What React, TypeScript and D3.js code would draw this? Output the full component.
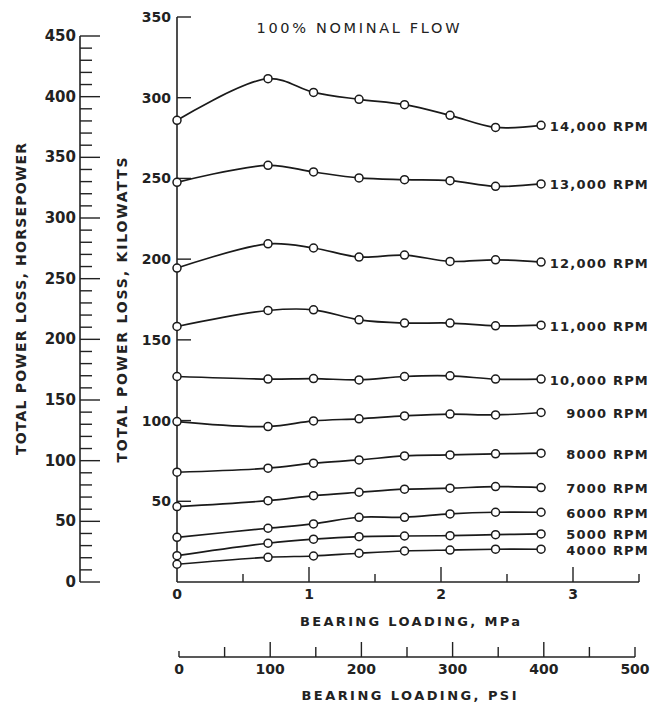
import React from "react";
import * as d3 from "d3";

// bearing load at each measured point, psi
const loadPsi = [0, 100, 150, 200, 250, 300, 350, 400];

const rpmLabels = [
  "14,000 RPM",
  "13,000 RPM",
  "12,000 RPM",
  "11,000 RPM",
  "10,000 RPM",
  "9000 RPM",
  "8000 RPM",
  "7000 RPM",
  "6000 RPM",
  "5000 RPM",
  "4000 RPM",
];

// total power loss, kW
const kw14000 = [286, 311.8, 303.3, 299, 295.7, 289.1, 281.6, 282.9];
const kw13000 = [247.6, 258.1, 254, 250.3, 249.2, 248.6, 245.1, 246.6];
const kw12000 = [194.5, 209.5, 206.9, 201.3, 202.5, 198.6, 199.6, 198.2];
const kw11000 = [158.3, 168.2, 168.6, 162.4, 160.4, 160.4, 158.7, 159.1];
const kw10000 = [127.3, 125.7, 126, 125.2, 127.3, 127.7, 125.7, 125.7];
const kw9000 = [99.4, 96.3, 99.8, 101.1, 102.9, 104, 103.5, 105];
const kw8000 = [68, 70.5, 73.6, 75.6, 78.1, 78.7, 79.4, 79.8];
const kw7000 = [46.7, 50.4, 53.5, 55.6, 57.5, 58.1, 59.1, 58.5];
const kw6000 = [27.7, 33.3, 36, 40.1, 40.1, 42.2, 43.2, 43.2];
const kw5000 = [16.3, 24, 26.5, 28.1, 28.5, 28.7, 29.3, 29.8];
const kw4000 = [11, 15.3, 16.1, 17.8, 19.2, 19.8, 20.3, 20.3];

const series = [kw14000, kw13000, kw12000, kw11000, kw10000, kw9000, kw8000, kw7000, kw6000, kw5000, kw4000];

const kwTicks = [50, 100, 150, 200, 250, 300, 350];
const hpTicks = [0, 50, 100, 150, 200, 250, 300, 350, 400, 450];
const mpaTicks = [0, 1, 2, 3];
const psiTicks = [0, 100, 200, 300, 400, 500];

const PSI_TO_MPA = 0.006895;

const font = "'DejaVu Sans', sans-serif";

export default function App() {
  const xMpa = d3.scaleLinear().domain([0, 3.5]).range([177, 639]);
  const xPsi = d3.scaleLinear().domain([0, 500]).range([179, 635]);
  const yKw = d3.scaleLinear().domain([0, 350]).range([582, 17]);
  const yHp = d3.scaleLinear().domain([0, 450]).range([582, 36]);

  const line = d3
    .line<number>()
    .x((_, i) => xMpa(loadPsi[i] * PSI_TO_MPA))
    .y((v) => yKw(v))
    .curve(d3.curveCatmullRom.alpha(0.5));

  const hpMinor = d3.range(0, 451, 10);
  const mpaMinor = d3.range(0.5, 3.51, 0.5);
  const psiMinor = d3.range(0, 501, 50);

  return (
    <svg
      width={667}
      height={707}
      style={{ position: "absolute", left: 0, top: 0, background: "#fff" }}
      fontFamily={font}
    >
      {/* horsepower axis */}
      <line x1={80} x2={80} y1={yHp(450)} y2={yHp(0)} stroke="#222" strokeWidth={1.6} />
      {hpMinor.map((v) => (
        <line
          key={"hp" + v}
          x1={80}
          x2={v % 50 === 0 ? 100 : 92}
          y1={yHp(v)}
          y2={yHp(v)}
          stroke="#222"
          strokeWidth={1.4}
        />
      ))}
      {hpTicks.map((v) => (
        <text
          key={"hpl" + v}
          x={76}
          y={yHp(v)}
          textAnchor="end"
          dominantBaseline="central"
          fontSize={15}
          fontWeight="bold"
          fill="#222"
        >
          {v}
        </text>
      ))}
      <text
        transform="translate(21,299) rotate(-90)"
        textAnchor="middle"
        dominantBaseline="central"
        fontSize={14}
        fontWeight="bold"
        fill="#222"
        textLength={312}
        lengthAdjust="spacing"
      >
        TOTAL POWER LOSS, HORSEPOWER
      </text>

      {/* kilowatt axis */}
      <line x1={177} x2={177} y1={yKw(350)} y2={yKw(0)} stroke="#222" strokeWidth={1.6} />
      {kwTicks.map((v) => (
        <g key={"kw" + v}>
          <line x1={177} x2={191} y1={yKw(v)} y2={yKw(v)} stroke="#222" strokeWidth={1.4} />
          <text
            x={171}
            y={yKw(v)}
            textAnchor="end"
            dominantBaseline="central"
            fontSize={14}
            fontWeight="bold"
            fill="#222"
          >
            {v}
          </text>
        </g>
      ))}
      <text
        transform="translate(122,310) rotate(-90)"
        textAnchor="middle"
        dominantBaseline="central"
        fontSize={14}
        fontWeight="bold"
        fill="#222"
        textLength={305}
        lengthAdjust="spacing"
      >
        TOTAL POWER LOSS, KILOWATTS
      </text>

      {/* MPa axis */}
      <line x1={xMpa(0)} x2={xMpa(3.5)} y1={582} y2={582} stroke="#222" strokeWidth={1.6} />
      {mpaMinor.map((v) => (
        <line
          key={"mp" + v}
          x1={xMpa(v)}
          x2={xMpa(v)}
          y1={582}
          y2={Number.isInteger(v) ? 567 : 574}
          stroke="#222"
          strokeWidth={1.4}
        />
      ))}
      {mpaTicks.map((v) => (
        <text
          key={"mpl" + v}
          x={xMpa(v)}
          y={594}
          textAnchor="middle"
          dominantBaseline="central"
          fontSize={14}
          fontWeight="bold"
          fill="#222"
        >
          {v}
        </text>
      ))}
      <text
        x={410}
        y={621}
        textAnchor="middle"
        dominantBaseline="central"
        fontSize={13}
        fontWeight="bold"
        fill="#222"
        textLength={220}
        lengthAdjust="spacing"
      >
        BEARING LOADING, MPa
      </text>

      {/* psi axis */}
      <line x1={xPsi(0)} x2={xPsi(500)} y1={657} y2={657} stroke="#222" strokeWidth={1.4} />
      {psiMinor.map((v) => (
        <line
          key={"ps" + v}
          x1={xPsi(v)}
          x2={xPsi(v)}
          y1={657}
          y2={v === 0 ? 651 : v % 100 === 0 && v < 500 ? 642 : 647}
          stroke="#222"
          strokeWidth={1.4}
        />
      ))}
      {psiTicks.map((v) => (
        <text
          key={"psl" + v}
          x={xPsi(v)}
          y={669}
          textAnchor="middle"
          dominantBaseline="central"
          fontSize={14}
          fontWeight="bold"
          fill="#222"
        >
          {v}
        </text>
      ))}
      <text
        x={409}
        y={695}
        textAnchor="middle"
        dominantBaseline="central"
        fontSize={13}
        fontWeight="bold"
        fill="#222"
        textLength={215}
        lengthAdjust="spacing"
      >
        BEARING LOADING, PSI
      </text>

      {/* title */}
      <text
        x={358}
        y={28}
        textAnchor="middle"
        dominantBaseline="central"
        fontSize={14.5}
        fill="#222"
        textLength={203}
        lengthAdjust="spacing"
      >
        100% NOMINAL FLOW
      </text>

      {/* curves */}
      {series.map((vals, s) => (
        <g key={"s" + s}>
          <path d={line(vals) ?? ""} fill="none" stroke="#1a1a1a" strokeWidth={1.7} />
          {vals.map((v, i) => (
            <circle
              key={i}
              cx={xMpa(loadPsi[i] * PSI_TO_MPA)}
              cy={yKw(v)}
              r={4}
              fill="#fff"
              stroke="#1a1a1a"
              strokeWidth={1.5}
            />
          ))}
          <text
            x={649}
            y={yKw(vals[vals.length - 1]) + 1}
            textAnchor="end"
            dominantBaseline="central"
            fontSize={13}
            fontWeight="bold"
            letterSpacing={1.2}
            fill="#222"
          >
            {rpmLabels[s]}
          </text>
        </g>
      ))}
    </svg>
  );
}
